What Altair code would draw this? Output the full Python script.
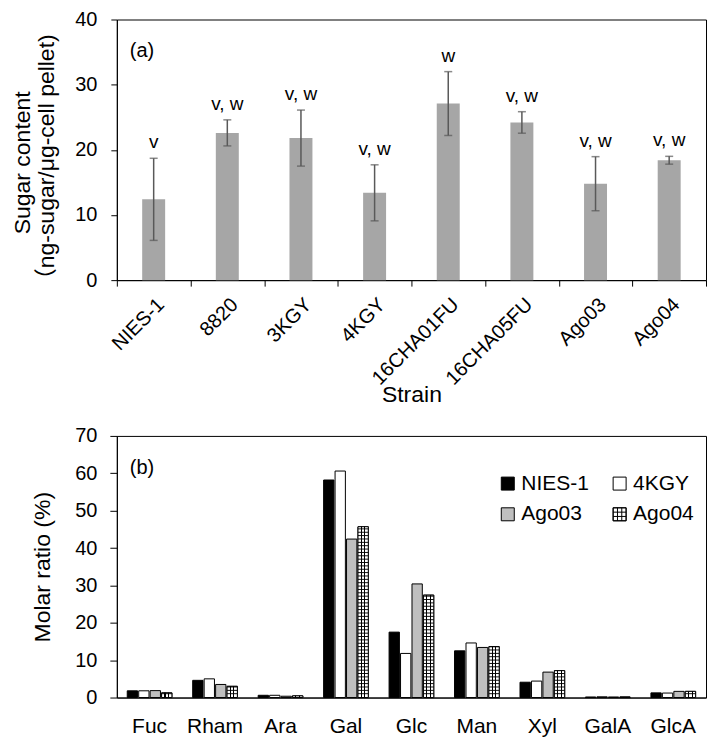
import altair as alt
import pandas as pd

# ---- panel (a) data ----
strains = ["NIES-1", "8820", "3KGY", "4KGY", "16CHA01FU", "16CHA05FU", "Ago03", "Ago04"]
sugar = [12.4, 22.6, 21.8, 13.4, 27.1, 24.2, 14.8, 18.4]
sugar_err = [6.3, 2.0, 4.3, 4.3, 4.9, 1.65, 4.15, 0.6]
letters = ["v", "v, w", "v, w", "v, w", "w", "v, w", "v, w", "v, w"]

# ---- panel (b) data ----
sugars = ["Fuc", "Rham", "Ara", "Gal", "Glc", "Man", "Xyl", "GalA", "GlcA"]
series = ["NIES-1", "4KGY", "Ago03", "Ago04"]
nies1 = [1.8, 4.6, 0.6, 58.2, 17.5, 12.5, 4.1, 0.15, 1.25]
kgy4 = [1.8, 5.0, 0.6, 60.6, 11.8, 14.6, 4.4, 0.2, 1.2]
ago03 = [1.85, 3.5, 0.35, 42.4, 30.4, 13.4, 6.8, 0.15, 1.65]
ago04 = [1.25, 3.0, 0.45, 45.7, 27.4, 13.6, 7.2, 0.15, 1.65]

FONT = "Liberation Sans, Arial, Noto Sans CJK JP"

top_df = pd.DataFrame({
    "strain": strains,
    "sugar": sugar,
    "lo": [s - e for s, e in zip(sugar, sugar_err)],
    "hi": [s + e for s, e in zip(sugar, sugar_err)],
    "letter": letters,
})

rows = []
for name, vals in zip(series, [nies1, kgy4, ago03, ago04]):
    for sg, v in zip(sugars, vals):
        rows.append({"sugar": sg, "series": name, "ratio": v})
bot_df = pd.DataFrame(rows)

W = 590
H_TOP = 261
H_BOT = 262
GRID_PATH = "M-1,-1H1V1H-1Z M-0.33,-1V1 M0.33,-1V1 M-1,-0.33H1 M-1,0.33H1"

# ---------------- panel (a) ----------------
x_top = alt.X(
    "strain:N", sort=strains,
    scale=alt.Scale(paddingInner=0, paddingOuter=0),
    axis=alt.Axis(title="Strain", labelAngle=-45, tickBand="extent", ticks=True,
                  tickSize=6, labelPadding=8, titleY=104, titleBaseline="top",
                  labelFontSize=20),
)
ytitle = ["Sugar content", "（ng-sugar/μg-cell pellet)"]
y_scale_top = alt.Scale(domain=[0, 40])


def y_top(field):
    return alt.Y(field, scale=y_scale_top, title=ytitle,
                 axis=alt.Axis(values=[0, 10, 20, 30, 40], tickSize=6, labelPadding=14,
                               titlePadding=16, titleY=143, titleLineHeight=24))


tb = alt.Chart(top_df)
bars_a = tb.mark_bar(size=23, color="#a6a6a6").encode(x=x_top, y=y_top("sugar:Q"))
err_a = tb.mark_rule(color="#595959", strokeWidth=1.5).encode(
    x=x_top, y=y_top("lo:Q"), y2="hi:Q")
cap_lo = tb.mark_tick(size=8, thickness=1.5, color="#595959").encode(x=x_top, y=y_top("lo:Q"))
cap_hi = tb.mark_tick(size=8, thickness=1.5, color="#595959").encode(x=x_top, y=y_top("hi:Q"))
let_a = tb.mark_text(fontSize=19, baseline="alphabetic", dy=-10, font=FONT, color="black").encode(
    x=x_top, y=y_top("hi:Q"), text="letter:N")
lab_a = alt.Chart(pd.DataFrame({"t": ["(a)"]})).mark_text(
    fontSize=20, align="left", baseline="middle", font=FONT, color="black").encode(
    x=alt.value(13), y=alt.value(32), text="t:N")

top = alt.layer(bars_a, err_a, cap_lo, cap_hi, let_a, lab_a).properties(width=W, height=H_TOP)

# ---------------- panel (b) ----------------
x_bot = alt.X(
    "sugar:N", sort=sugars,
    scale=alt.Scale(paddingInner=0.3, paddingOuter=0.15),
    axis=alt.Axis(title=None, ticks=False, labelAngle=0, labelPadding=18, labelFontSize=21),
)
xo = alt.XOffset("series:N", sort=series,
                 scale=alt.Scale(domain=series, paddingInner=0.1, paddingOuter=0.05))
y_scale_bot = alt.Scale(domain=[0, 70])
YB = "Molar ratio (%)"


def y_bot(field):
    return alt.Y(field, scale=y_scale_bot, title=YB,
                 axis=alt.Axis(values=list(range(0, 71, 10)), tickSize=7, labelPadding=13,
                               titlePadding=20, labelOverlap=False))


fill_scale = alt.Scale(domain=series, range=["#000000", "#ffffff", "#bfbfbf", "#ffffff"])
# outline scale: only the hatched series draws its grid symbol in the overlay legend
stroke_scale = alt.Scale(domain=series[::-1],
                         range=["black", "transparent", "transparent", "transparent"])

leg_common = dict(orient="none", legendX=381, legendY=37, columns=2, direction="horizontal",
                  symbolSize=169, labelFontSize=21, labelFont=FONT,
                  columnPadding=20, rowPadding=9, labelOffset=3, values=series, title=None)

bb = alt.Chart(bot_df)
bars_b = bb.mark_bar(stroke="black", strokeWidth=1).encode(
    x=x_bot, xOffset=xo, y=y_bot("ratio:Q"),
    fill=alt.Fill("series:N", sort=series, scale=fill_scale, title=None,
                  legend=alt.Legend(symbolType="square", labelColor="black",
                                    symbolStrokeColor="black", symbolStrokeWidth=1,
                                    zindex=1, **leg_common)))

grad = alt.LinearGradient(
    gradient="linear", x1=0, x2=1, y1=0, y2=0,
    stops=[
        alt.GradientStop(color="white", offset=0),
        alt.GradientStop(color="white", offset=0.28),
        alt.GradientStop(color="black", offset=0.28),
        alt.GradientStop(color="black", offset=0.38),
        alt.GradientStop(color="white", offset=0.38),
        alt.GradientStop(color="white", offset=0.62),
        alt.GradientStop(color="black", offset=0.62),
        alt.GradientStop(color="black", offset=0.72),
        alt.GradientStop(color="white", offset=0.72),
        alt.GradientStop(color="white", offset=1),
    ],
)
ago04_only = bb.transform_filter(alt.datum.series == "Ago04")
hatch_v = ago04_only.mark_bar(fill=grad).encode(x=x_bot, xOffset=xo, y=y_bot("ratio:Q"))

hatch_h = ago04_only.transform_calculate(
    k="sequence(1, ceil(datum.ratio / 0.9))"
).transform_flatten(["k"]).transform_calculate(
    yl="datum.k * 0.9", yl2="datum.k * 0.9 + 0.25"
).mark_bar(fill="black").encode(
    x=x_bot, xOffset=xo, y=y_bot("yl:Q"), y2="yl2:Q")

outline = ago04_only.mark_bar(fill="transparent", strokeWidth=1).encode(
    x=x_bot, xOffset=xo, y=y_bot("ratio:Q"),
    stroke=alt.Stroke("series:N", scale=stroke_scale, title=None,
                      legend=alt.Legend(symbolType=GRID_PATH, labelColor="transparent",
                                        symbolFillColor="transparent", symbolStrokeWidth=1,
                                        zindex=2, **leg_common)))

lab_b = alt.Chart(pd.DataFrame({"t": ["(b)"]})).mark_text(
    fontSize=20, align="left", baseline="middle", font=FONT, color="black").encode(
    x=alt.value(13), y=alt.value(32), text="t:N")

bottom = alt.layer(bars_b, hatch_v, hatch_h, outline, lab_b).properties(width=W, height=H_BOT)

chart = alt.vconcat(top, bottom, spacing=17).resolve_scale(
    fill="independent", stroke="independent"
).properties(
    padding={"left": 3, "top": 0, "right": 0, "bottom": 0}
).configure(
    font=FONT,
).configure_view(
    stroke="black", strokeWidth=1
).configure_axis(
    grid=False, domainColor="black", tickColor="black", labelColor="black",
    titleColor="black", labelFont=FONT, titleFont=FONT, labelFontSize=20,
    titleFontSize=23, titleFontWeight="normal", domainWidth=1, tickWidth=1,
)

chart.save("out.html", embed_options={"renderer": "svg", "actions": False})
